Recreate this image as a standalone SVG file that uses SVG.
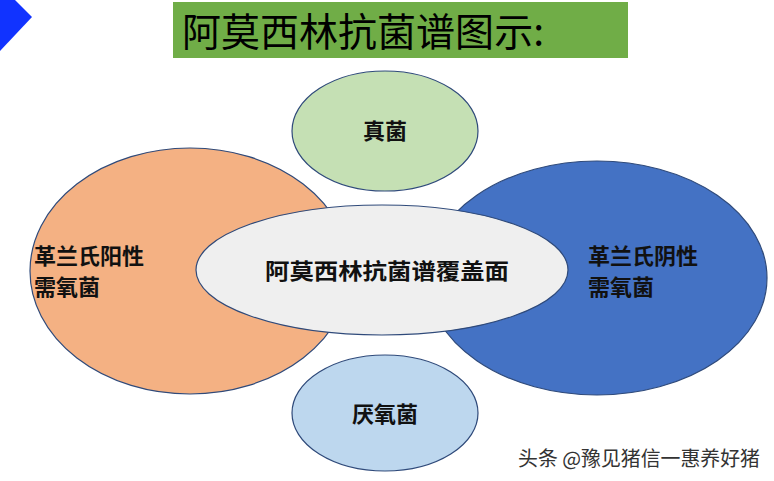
<svg xmlns="http://www.w3.org/2000/svg" width="774" height="481" viewBox="0 0 774 481">
<style>
.e{stroke:#2f4a7a;stroke-width:1.2}
.t{font-family:"Noto Sans CJK SC",sans-serif;font-size:22px;font-weight:bold;fill:#111}
</style>
<rect width="774" height="481" fill="#fff"/>
<polygon points="0,0 15,0 32,17 0,51" fill="#1133ff"/>
<rect x="173" y="2" width="455" height="56" fill="#70ad47"/>
<text x="182" y="46" font-family="Noto Sans CJK SC,sans-serif" font-size="39" fill="#000" textLength="362" lengthAdjust="spacingAndGlyphs">阿莫西林抗菌谱图示:</text>
<g id="left"><ellipse class="e" cx="190" cy="271" rx="160" ry="123" fill="#f4b183"/>
<text class="t" x="34" y="264">革兰氏阳性</text><text class="t" x="34" y="295">需氧菌</text></g>
<g id="right"><ellipse class="e" cx="597" cy="278" rx="170" ry="117" fill="#4472c4"/>
<text class="t" x="588" y="264">革兰氏阴性</text><text class="t" x="588" y="295">需氧菌</text></g>
<g id="top"><ellipse class="e" cx="385" cy="131" rx="93" ry="60" fill="#c5e0b4"/>
<text class="t" x="385" y="139" text-anchor="middle">真菌</text></g>
<g id="bottom"><ellipse class="e" cx="385" cy="413" rx="93" ry="58" fill="#bdd7ee"/>
<text class="t" x="385" y="422" text-anchor="middle">厌氧菌</text></g>
<g id="center"><ellipse class="e" cx="382" cy="270" rx="186" ry="65" fill="#efefef"/>
<text class="t" x="387" y="279" text-anchor="middle" textLength="244" lengthAdjust="spacingAndGlyphs">阿莫西林抗菌谱覆盖面</text></g>
<g id="connectors"/>
<text x="518" y="466" font-family="Noto Sans CJK SC,sans-serif" font-size="20" fill="#333" textLength="242" lengthAdjust="spacingAndGlyphs">头条 @豫见猪信一惠养好猪</text>
</svg>
